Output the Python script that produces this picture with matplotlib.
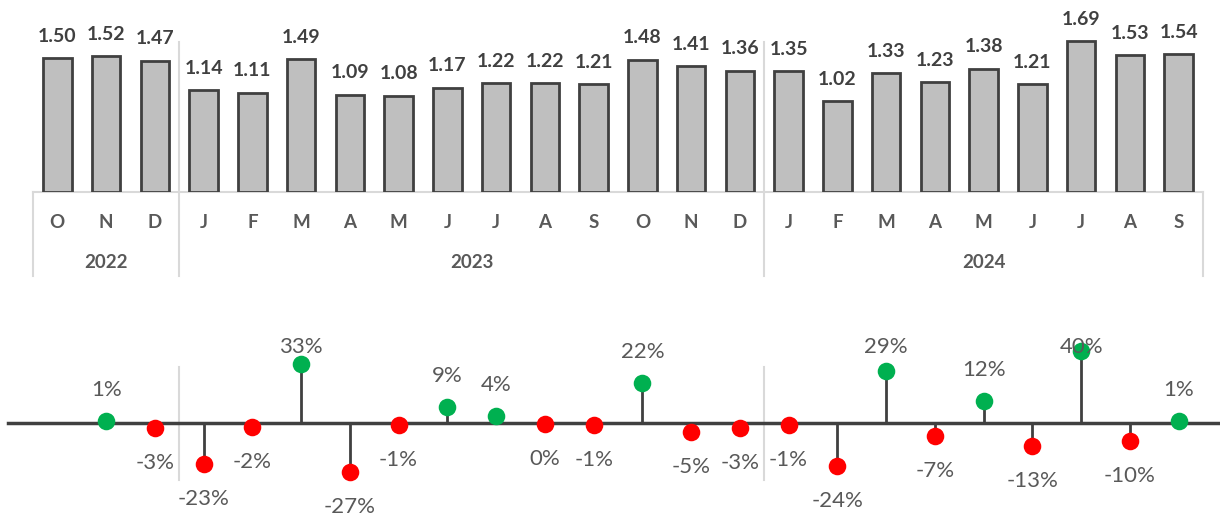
import matplotlib.pyplot as plt
import numpy as np

# data
months = ["O", "N", "D",
          "J", "F", "M", "A", "M", "J", "J", "A", "S", "O", "N", "D",
          "J", "F", "M", "A", "M", "J", "J", "A", "S"]
years = ["2022", "2023", "2024"]
year_sizes = [3, 12, 9]
values = [1.50, 1.52, 1.47,
          1.14, 1.11, 1.49, 1.09, 1.08, 1.17, 1.22, 1.22, 1.21, 1.48, 1.41, 1.36,
          1.35, 1.02, 1.33, 1.23, 1.38, 1.21, 1.69, 1.53, 1.54]
# month-on-month change, from the second month on
change_pct = [1, -3, -23, -2, 33, -27, -1, 9, 4, -0.3, -1, 22, -5, -3,
              -1, -24, 29, -7, 12, -13, 40, -10, 1]
change_labels = ["1%", "-3%", "-23%", "-2%", "33%", "-27%", "-1%", "9%", "4%", "0%",
                 "-1%", "22%", "-5%", "-3%", "-1%", "-24%", "29%", "-7%", "12%",
                 "-13%", "40%", "-10%", "1%"]

W, H = 1220, 516
FONT = ["Lato", "DejaVu Sans"]
plt.rcParams["font.family"] = FONT

BAR_FILL = "#BFBFBF"
DARK = "#404040"
TEXT = "#595959"
SEP = "#D9D9D9"
GREEN = "#00B050"
RED = "#FF0000"

fig = plt.figure(figsize=(W / 100, H / 100), dpi=100)


def px_box(x0, y0, x1, y1):
    # pixel box (top-left origin) -> figure fraction rect
    return [x0 / W, 1 - y1 / H, (x1 - x0) / W, (y1 - y0) / H]


# ---- top: bar chart ----
ax = fig.add_axes(px_box(33, 0, 1203, 192))
n = len(values)
x = np.arange(n)
ax.bar(x, values, width=0.58, color=BAR_FILL, edgecolor=DARK, linewidth=2, zorder=3)
for xi, v in zip(x, values):
    ax.text(xi, v + 0.15, f"{v:.2f}", ha="center", va="bottom", fontsize=14,
            fontweight="bold", color=DARK)
ax.set_xlim(-0.5, n - 0.5)
ax.set_ylim(0, 192 / 89.3)
ax.axis("off")

tr = ax.get_xaxis_transform()
# axis line and category labels
ax.plot([-0.5, n - 0.5], [0, 0], color=SEP, lw=1.5, transform=tr, clip_on=False)
for xi, m in zip(x, months):
    ax.text(xi, -30 / 192, m, ha="center", va="center", fontsize=13.5,
            fontweight="bold", color=TEXT, transform=tr)

bounds = np.concatenate([[0], np.cumsum(year_sizes)]) - 0.5
for i, yr in enumerate(years):
    ax.text((bounds[i] + bounds[i + 1]) / 2, -71 / 192, yr, ha="center", va="center",
            fontsize=13.5, fontweight="bold", color=TEXT, transform=tr)
for i, b in enumerate(bounds):
    top = 150 / 192 if 0 < i < len(bounds) - 1 else 0
    ax.plot([b, b], [top, -84 / 192], color=SEP, lw=1.5, transform=tr, clip_on=False)

# ---- bottom: lollipop of changes ----
PX_PER_PCT = 1.8
AXIS_Y = 423
bx = fig.add_axes(px_box(0, 340, W, H))
x_left = -0.5 - 33 / 48.75
x_right = -0.5 + (W - 33) / 48.75
bx.set_xlim(x_left, x_right)
bx.set_ylim(-(H - AXIS_Y) / PX_PER_PCT, (AXIS_Y - 340) / PX_PER_PCT)
bx.axis("off")

cx = np.arange(1, n)
bx.plot([x_left + 8 / 48.75, x_right], [0, 0], color=DARK, lw=2.5, zorder=2)
for b in bounds[1:-1]:
    bx.plot([b, b], [(AXIS_Y - 367) / PX_PER_PCT, -(480 - AXIS_Y) / PX_PER_PCT],
            color=SEP, lw=1.5, zorder=1)

top_lim = (AXIS_Y - 347) / PX_PER_PCT
for xi, v, lab in zip(cx, change_pct, change_labels):
    col = GREEN if v > 0 else RED
    bx.plot([xi, xi], [0, v], color=DARK, lw=2, zorder=2)
    bx.scatter([xi], [v], s=160, color=col, zorder=4, linewidths=0)
    if v > 0:
        ly = min(v + 31 / PX_PER_PCT, top_lim)
    else:
        ly = v - 35 / PX_PER_PCT
    bx.text(xi, ly, lab, ha="center", va="center", fontsize=16, color=TEXT, zorder=5)

fig.savefig("out.png", dpi=100)
